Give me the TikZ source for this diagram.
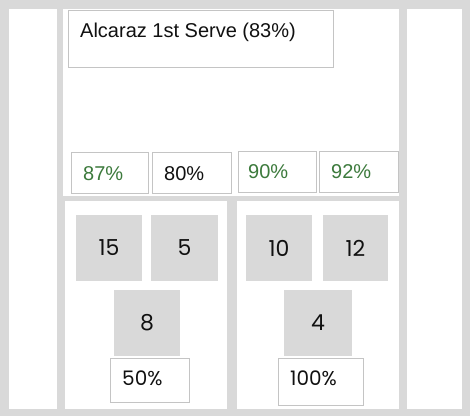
\documentclass[tikz,border=0pt]{standalone}
\usepackage{fontspec}
\setmainfont{Liberation Sans}
\newfontfamily\numfont{Poppins}
\definecolor{bggrey}{HTML}{D9D9D9}
\definecolor{sqgrey}{HTML}{D9D9D9}
\definecolor{bordergrey}{HTML}{C4C4C4}
\definecolor{pctgreen}{HTML}{3C7A3C}
\definecolor{txtblack}{HTML}{111111}
\tikzset{
  panel/.style={fill=white, draw=none},
  sq/.style={fill=sqgrey, draw=none, minimum width=66pt, minimum height=66pt, inner sep=0pt,
    font=\numfont\fontsize{22}{26}\selectfont, text=txtblack},
  pbox/.style={fill=white, draw=bordergrey, line width=0.6pt, inner sep=0pt},
  toplbl/.style={anchor=base west, inner sep=0pt, font=\fontsize{20}{24}\selectfont},
  botlbl/.style={anchor=base west, inner sep=0pt, font=\numfont\fontsize{20}{24}\selectfont, text=txtblack},
}
\begin{document}
\begin{tikzpicture}[x=1pt,y=-1pt]
\useasboundingbox (0,0) rectangle (470,416);
\fill[bggrey] (0,0) rectangle (470,416);
% panels
\node[panel, minimum width=48pt, minimum height=400pt, inner sep=0pt] (leftcol) at (33,209) {};
\node[panel, minimum width=336pt, minimum height=187pt, inner sep=0pt] (topc) at (231,102.5) {};
\node[panel, minimum width=162pt, minimum height=208pt, inner sep=0pt] (botl) at (146,305) {};
\node[panel, minimum width=162pt, minimum height=208pt, inner sep=0pt] (botr) at (318,305) {};
\node[panel, minimum width=55pt, minimum height=400pt, inner sep=0pt] (rightcol) at (434.5,209) {};
% title
\node[pbox, minimum width=265pt, minimum height=57pt] (title) at (200.5,38.5) {};
\node[toplbl, text=txtblack] (titletxt) at (80,37.5) {Alcaraz 1st Serve (83\%)};
% top percentage boxes
\node[pbox, minimum width=77pt, minimum height=41pt] (b87) at (109.5,172.5) {};
\node[pbox, minimum width=79pt, minimum height=41pt] (b80) at (191.5,172.5) {};
\node[pbox, minimum width=78pt, minimum height=41pt] (b90) at (277,171.5) {};
\node[pbox, minimum width=79pt, minimum height=41pt] (b92) at (358.5,171.5) {};
\node[toplbl, text=pctgreen] (t87) at (83,180) {87\%};
\node[toplbl, text=txtblack] (t80) at (164,180) {80\%};
\node[toplbl, text=pctgreen] (t90) at (248,178) {90\%};
\node[toplbl, text=pctgreen] (t92) at (331,178) {92\%};
% grey squares
\node[sq] (s15) at (109,248) {15};
\node[sq, minimum width=67pt] (s5) at (184.5,248) {5};
\node[sq] (s8) at (147,323) {8};
\node[sq] (s10) at (279,248) {10};
\node[sq, minimum width=65pt] (s12) at (355.5,248) {12};
\node[sq, minimum width=68pt] (s4) at (318,323) {4};
% bottom percentage boxes
\node[pbox, minimum width=79pt, minimum height=44pt] (b50) at (149.5,380) {};
\node[pbox, minimum width=85pt, minimum height=47pt] (b100) at (320.5,381.5) {};
\node[botlbl] (t50) at (122,385.5) {50\%};
\node[botlbl] (t100) at (290,385.5) {100\%};
\end{tikzpicture}
\end{document}
